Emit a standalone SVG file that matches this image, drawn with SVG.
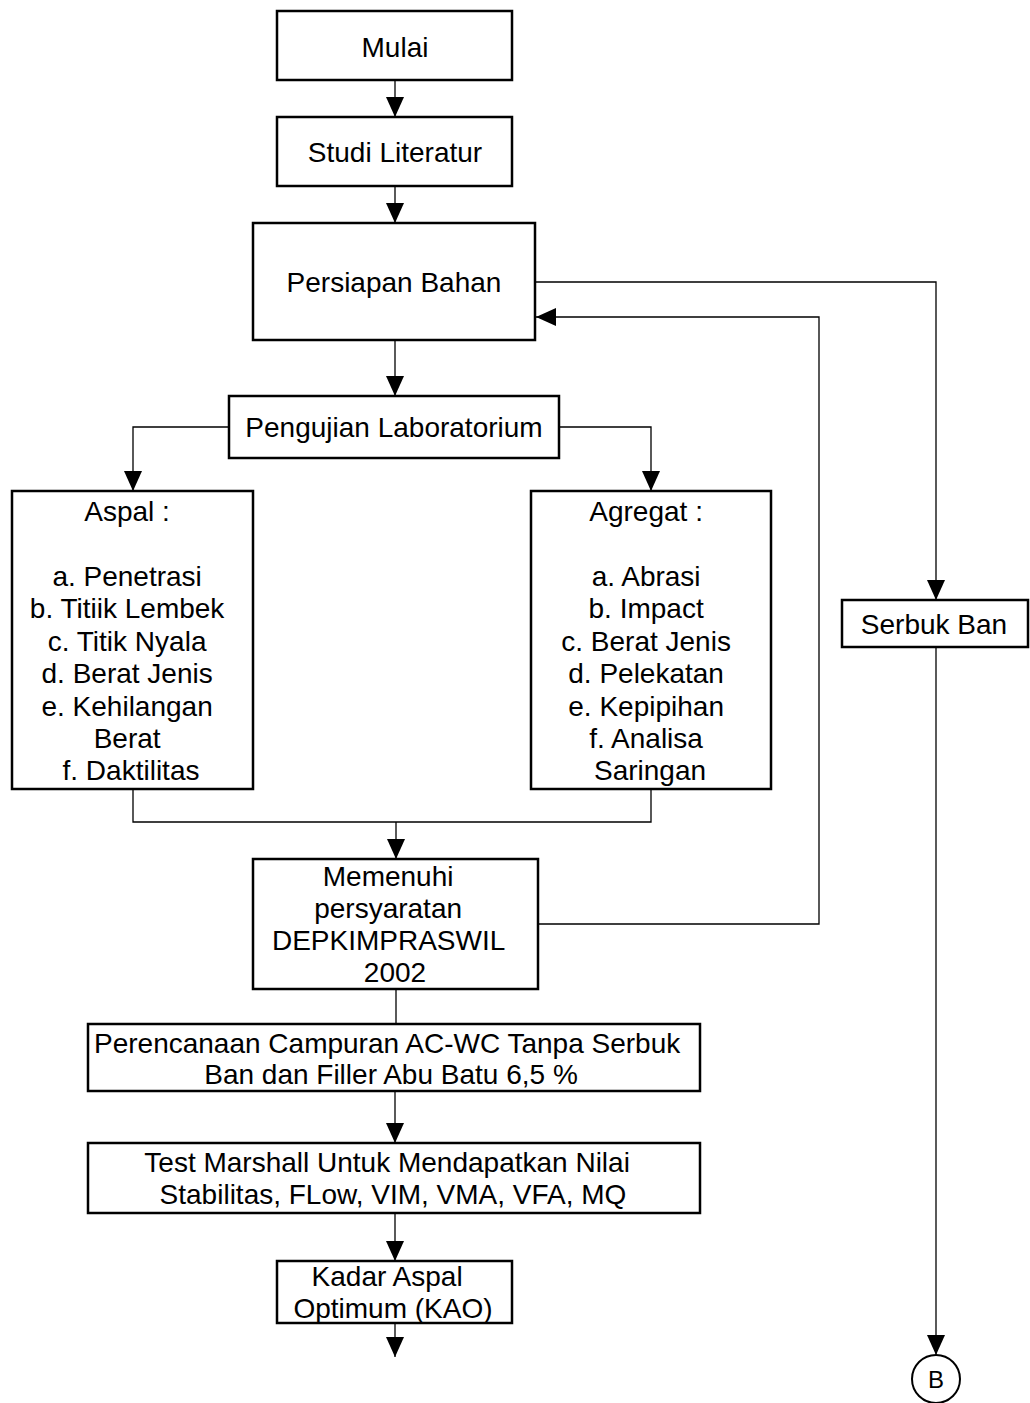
<svg xmlns="http://www.w3.org/2000/svg" width="1030" height="1403" viewBox="0 0 1030 1403">
  <style>
    .box { fill: #fff; stroke: #000; stroke-width: 2.5; }
    .ln { fill: none; stroke: #000; stroke-width: 1.3; }
    .t { font-family: "Liberation Sans", Arial, sans-serif; font-size: 28px; fill: #000; text-anchor: middle; }
  </style>
  <defs>
    <marker id="arr" markerUnits="userSpaceOnUse" markerWidth="20" markerHeight="18" refX="20" refY="9" orient="auto">
      <path d="M0,0 L20,9 L0,18 z" fill="#000"/>
    </marker>
  </defs>
  <rect width="1030" height="1403" fill="#fff"/>

  <!-- connectors -->
  <g id="connectors">
    <path class="ln" d="M395,80 V117" marker-end="url(#arr)"/>
    <path class="ln" d="M395,186 V223" marker-end="url(#arr)"/>
    <path class="ln" d="M535,282 H936 V600" marker-end="url(#arr)"/>
    <path class="ln" d="M395,340 V396" marker-end="url(#arr)"/>
    <path class="ln" d="M229,427 H133 V491" marker-end="url(#arr)"/>
    <path class="ln" d="M559,427 H651 V491" marker-end="url(#arr)"/>
    <path class="ln" d="M133,789 V822 H651 V789"/>
    <path class="ln" d="M396,822 V859" marker-end="url(#arr)"/>
    <path class="ln" d="M538,924 H819 V317 H536" marker-end="url(#arr)"/>
    <path class="ln" d="M396,989 V1024"/>
    <path class="ln" d="M395,1091 V1143" marker-end="url(#arr)"/>
    <path class="ln" d="M395,1213 V1261" marker-end="url(#arr)"/>
    <path class="ln" d="M395,1323 V1357" marker-end="url(#arr)"/>
    <path class="ln" d="M936,647 V1355" marker-end="url(#arr)"/>
  </g>

  <g id="mulai">
    <rect class="box" x="277" y="11" width="235" height="69"/>
    <text class="t" x="395" y="57">Mulai</text>
  </g>
  <g id="studi-literatur">
    <rect class="box" x="277" y="117" width="235" height="69"/>
    <text class="t" x="395" y="162">Studi Literatur</text>
  </g>
  <g id="persiapan-bahan">
    <rect class="box" x="253" y="223" width="282" height="117"/>
    <text class="t" x="394" y="292">Persiapan Bahan</text>
  </g>
  <g id="pengujian-laboratorium">
    <rect class="box" x="229" y="396" width="330" height="62"/>
    <text class="t" x="394" y="437">Pengujian Laboratorium</text>
  </g>
  <g id="aspal">
    <rect class="box" x="12" y="491" width="241" height="298"/>
    <text class="t" x="131">
      <tspan x="131" y="521">Aspal :</tspan>
      <tspan x="131" y="586">a. Penetrasi</tspan>
      <tspan x="131" y="618">b. Titiik Lembek</tspan>
      <tspan x="131" y="651">c. Titik Nyala</tspan>
      <tspan x="131" y="683">d. Berat Jenis</tspan>
      <tspan x="131" y="716">e. Kehilangan</tspan>
      <tspan x="131" y="748">Berat</tspan>
      <tspan x="131" y="780">f. Daktilitas</tspan>
    </text>
  </g>
  <g id="agregat">
    <rect class="box" x="531" y="491" width="240" height="298"/>
    <text class="t" x="650">
      <tspan x="650" y="521">Agregat :</tspan>
      <tspan x="650" y="586">a. Abrasi</tspan>
      <tspan x="650" y="618">b. Impact</tspan>
      <tspan x="650" y="651">c. Berat Jenis</tspan>
      <tspan x="650" y="683">d. Pelekatan</tspan>
      <tspan x="650" y="716">e. Kepipihan</tspan>
      <tspan x="650" y="748">f. Analisa</tspan>
      <tspan x="650" y="780">Saringan</tspan>
    </text>
  </g>
  <g id="serbuk-ban">
    <rect class="box" x="842" y="600" width="186" height="47"/>
    <text class="t" x="934" y="634">Serbuk Ban</text>
  </g>
  <g id="memenuhi">
    <rect class="box" x="253" y="859" width="285" height="130"/>
    <text class="t">
      <tspan x="392" y="886">Memenuhi</tspan>
      <tspan x="392" y="918">persyaratan</tspan>
      <tspan x="392" y="950">DEPKIMPRASWIL</tspan>
      <tspan x="395" y="982">2002</tspan>
    </text>
  </g>
  <g id="perencanaan">
    <rect class="box" x="88" y="1024" width="612" height="67"/>
    <text class="t">
      <tspan x="391" y="1053">Perencanaan Campuran AC-WC Tanpa Serbuk</tspan>
      <tspan x="391" y="1084">Ban dan Filler Abu Batu 6,5 %</tspan>
    </text>
  </g>
  <g id="test-marshall">
    <rect class="box" x="88" y="1143" width="612" height="70"/>
    <text class="t">
      <tspan x="391" y="1172">Test Marshall Untuk Mendapatkan Nilai</tspan>
      <tspan x="393" y="1204">Stabilitas, FLow, VIM, VMA, VFA, MQ</tspan>
    </text>
  </g>
  <g id="kadar-aspal">
    <rect class="box" x="277" y="1261" width="235" height="62"/>
    <text class="t">
      <tspan x="391" y="1286">Kadar Aspal</tspan>
      <tspan x="393" y="1318">Optimum (KAO)</tspan>
    </text>
  </g>
  <g id="connector-b">
    <circle cx="936" cy="1379" r="24" fill="#fff" stroke="#000" stroke-width="2"/>
    <text class="t" x="936" y="1388" style="font-size:24px">B</text>
  </g>
</svg>
